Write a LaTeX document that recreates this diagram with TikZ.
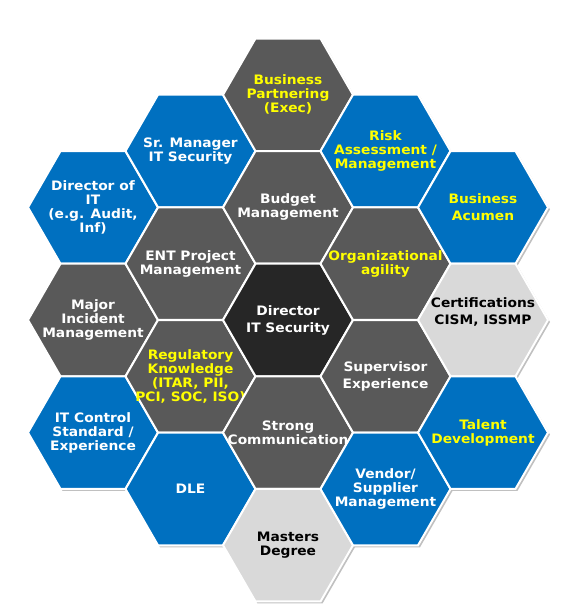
\documentclass[tikz,border=0pt]{standalone}
\usepackage{fontspec}
\newfontfamily\hexfont{DejaVu Sans}[FakeStretch=1.06]
\definecolor{hexblue}{HTML}{0070C0}
\definecolor{hexgray}{HTML}{595959}
\definecolor{hexdark}{HTML}{262626}
\definecolor{hexlight}{HTML}{D9D9D9}
\definecolor{hexyellow}{HTML}{FFFF00}
\tikzset{
  hexlabel/.style={align=center, inner sep=0pt,
    font=\hexfont\bfseries\fontsize{13}{14}\selectfont},
  hexshadow/.style={fill=black!45, opacity=0.55},
  hexedge/.style={draw=white, line width=2pt, line join=miter}}

% one cell: [label options]{name}{x}{y}{fill}{text colour}{text}
\newcommand{\hexcell}[7][]{%
  \fill[hexshadow, shift={(2,2)}] (#3,#4) +(0:65) -- +(60:65) -- +(120:65)
    -- +(180:65) -- +(240:65) -- +(300:65) -- cycle;
  \filldraw[hexedge, fill=#5] (#3,#4) +(0:65) -- +(60:65) -- +(120:65)
    -- +(180:65) -- +(240:65) -- +(300:65) -- cycle;
  \node[hexlabel, text=#6, #1] (#2) at (#3,#4) {#7};
}

\begin{document}
\begin{tikzpicture}[x=1pt,y=-1pt]
\useasboundingbox (0,0) rectangle (578,610);
% left column
\hexcell{dirit}{93}{207.4}{hexblue}{white}{Director of\\IT\\(e.g. Audit,\\Inf)}
\hexcell{incident}{93}{320}{hexgray}{white}{Major\\Incident\\Management}
\hexcell{control}{93}{432.6}{hexblue}{white}{IT Control\\Standard /\\Experience}
% second column
\hexcell{srmgr}{190.5}{151}{hexblue}{white}{Sr. Manager\\IT Security}
\hexcell{entpm}{190.5}{263.7}{hexgray}{white}{ENT Project\\Management}
\hexcell{regknow}{190.5}{376.3}{hexgray}{hexyellow}{Regulatory\\Knowledge\\(ITAR, PII,\\PCI, SOC, ISO)}
\hexcell{dle}{190.5}{489}{hexblue}{white}{DLE}
% middle column
\hexcell{partner}{288}{94.8}{hexgray}{hexyellow}{Business\\Partnering\\(Exec)}
\hexcell{budget}{288}{207.4}{hexgray}{white}{Budget\\Management}
\hexcell{director}{288}{320}{hexdark}{white}{Director\\[3pt]IT Security}
\hexcell{comm}{288}{432.6}{hexgray}{white}{Strong\\Communication}
\hexcell{masters}{288}{545.2}{hexlight}{black}{Masters\\Degree}
% fourth column
\hexcell{risk}{385.5}{151}{hexblue}{hexyellow}{Risk\\Assessment /\\Management}
\hexcell{agility}{385.5}{263.7}{hexgray}{hexyellow}{Organizational\\agility}
\hexcell{superv}{385.5}{376.3}{hexgray}{white}{Supervisor\\[3pt]Experience}
\hexcell{vendor}{385.5}{489}{hexblue}{white}{Vendor/\\Supplier\\Management}
% right column
\hexcell{acumen}{483}{207.4}{hexblue}{hexyellow}{Business\\[3pt]Acumen}
\hexcell[yshift=8pt]{certs}{483}{320}{hexlight}{black}{Certifications\\[3pt]CISM, ISSMP}
\hexcell{talent}{483}{432.6}{hexblue}{hexyellow}{Talent\\Development}
\end{tikzpicture}
\end{document}
